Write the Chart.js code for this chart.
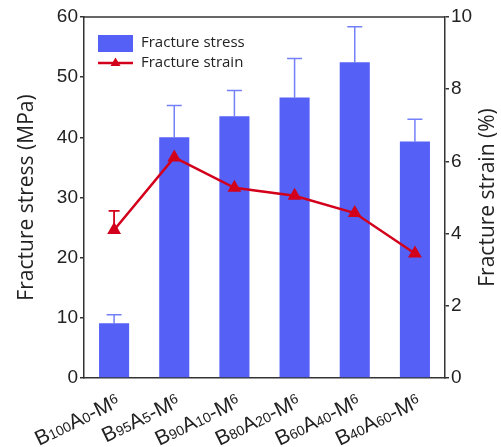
<!DOCTYPE html>
<html>
<head>
<meta charset="utf-8">
<script src="https://cdn.jsdelivr.net/npm/chart.js@4.4.1/dist/chart.umd.min.js"></script>
<style>
  html, body { margin: 0; padding: 0; background: #fff; }
  #wrap { width: 501px; height: 447px; }
</style>
</head>
<body>
<div id="wrap"><canvas id="chart"></canvas></div>
<script>
// data
const categories = ['B100A0-M6', 'B95A5-M6', 'B90A10-M6', 'B80A20-M6', 'B60A40-M6', 'B40A60-M6'];
const stress = [9.1, 40.0, 43.5, 46.6, 52.5, 39.3];
const stressErr = [1.4, 5.3, 4.3, 6.5, 5.9, 3.7];
const strain = [4.1, 6.11, 5.27, 5.05, 4.57, 3.45];
const strainErr = [0.53, 0.2, 0.33, 0.59, 0.27, 0.72];
const stressTicks = [0, 10, 20, 30, 40, 50, 60];
const strainTicks = [0, 2, 4, 6, 8, 10];

const BLUE = '#5561f6';
const BLUE_ERR = '#7480f8';
const RED = '#d3001c';
const AXIS = '#333333';
const TXT = '#222222';

function errBar(ctx, px, v, e, scale, color, half, lw) {
  const y0 = scale.getPixelForValue(v);
  const yt = scale.getPixelForValue(v + e);
  ctx.strokeStyle = color;
  ctx.lineWidth = lw;
  ctx.beginPath();
  ctx.moveTo(px, y0);
  ctx.lineTo(px, yt);
  ctx.moveTo(px - half, yt);
  ctx.lineTo(px + half, yt);
  ctx.stroke();
}

const extras = {
  id: 'extras',
  beforeDatasetsDraw(chart) {
    const ctx = chart.ctx, x = chart.scales.x;
    ctx.save();
    stress.forEach((v, i) => errBar(ctx, x.getPixelForValue(i), v, stressErr[i], chart.scales.y, BLUE_ERR, 7.5, 1.5));
    strain.forEach((v, i) => errBar(ctx, x.getPixelForValue(i), v, strainErr[i], chart.scales.y1, RED, 5.5, 1.8));
    ctx.restore();
  },
  afterDraw(chart) {
    const ctx = chart.ctx, a = chart.chartArea, x = chart.scales.x;
    ctx.save();
    // top frame line
    ctx.strokeStyle = AXIS;
    ctx.lineWidth = 1.5;
    ctx.beginPath();
    ctx.moveTo(a.left, a.top);
    ctx.lineTo(a.right, a.top);
    ctx.stroke();

    // right axis title, reading bottom to top
    ctx.save();
    ctx.translate(488, (a.top + a.bottom) / 2);
    ctx.rotate(-Math.PI / 2);
    ctx.fillStyle = TXT;
    ctx.font = '21px "Open Sans"';
    ctx.textAlign = 'center';
    ctx.textBaseline = 'middle';
    ctx.fillText('Fracture strain (%)', 0, 0);
    ctx.restore();

    // legend
    ctx.fillStyle = BLUE;
    ctx.fillRect(98, 35, 35, 17);
    ctx.strokeStyle = RED;
    ctx.lineWidth = 2.5;
    ctx.beginPath();
    ctx.moveTo(98, 63);
    ctx.lineTo(133, 63);
    ctx.stroke();
    ctx.fillStyle = RED;
    ctx.beginPath();
    ctx.moveTo(115.5, 57.5);
    ctx.lineTo(120.5, 66);
    ctx.lineTo(110.5, 66);
    ctx.closePath();
    ctx.fill();
    ctx.fillStyle = TXT;
    ctx.font = '15px "Open Sans"';
    ctx.textBaseline = 'middle';
    ctx.textAlign = 'left';
    ctx.fillText('Fracture stress', 141, 43);
    ctx.fillText('Fracture strain', 141, 63);

    // rotated category labels with small digits
    const big = 21, small = 14;
    ctx.textBaseline = 'alphabetic';
    categories.forEach((lab, i) => {
      const segs = lab.match(/\d+|\D+/g);
      let total = 0;
      segs.forEach(s => {
        ctx.font = (/\d/.test(s) ? small : big) + 'px "Liberation Sans"';
        total += ctx.measureText(s).width;
      });
      ctx.save();
      ctx.translate(x.getPixelForValue(i) + 7, x.top + 28);
      ctx.rotate(-26 * Math.PI / 180);
      let cx = -total;
      segs.forEach((s, k) => {
        const isNum = /\d/.test(s);
        ctx.font = (isNum ? small : big) + 'px "Liberation Sans"';
        let dy = 0;
        if (isNum && k > 0 && segs[k - 1].endsWith('M')) dy = -5;
        ctx.fillText(s, cx, dy);
        cx += ctx.measureText(s).width;
      });
      ctx.restore();
    });
    ctx.restore();
  }
};

new Chart(document.getElementById('chart'), {
  type: 'bar',
  data: {
    labels: categories,
    datasets: [{
      type: 'line',
      label: 'Fracture strain',
      data: strain,
      yAxisID: 'y1',
      borderColor: RED,
      backgroundColor: RED,
      borderWidth: 2.5,
      pointStyle: 'triangle',
      pointRadius: 5.5,
      pointHoverRadius: 5.5,
      pointBackgroundColor: RED,
      pointBorderColor: RED,
      tension: 0,
      order: 0
    }, {
      label: 'Fracture stress',
      data: stress,
      yAxisID: 'y',
      backgroundColor: BLUE,
      barPercentage: 0.5,
      categoryPercentage: 1.0,
      order: 1
    }]
  },
  options: {
    responsive: true,
    maintainAspectRatio: false,
    animation: false,
    layout: { padding: { top: 17, left: 0, right: 0, bottom: 0 } },
    plugins: { legend: { display: false }, tooltip: { enabled: false } },
    scales: {
      x: {
        grid: { display: false },
        border: { display: true, color: AXIS, width: 1.5 },
        ticks: { display: false },
        afterFit(s) { s.height = 69; }
      },
      y: {
        position: 'left',
        min: 0, max: 60,
        afterBuildTicks(s) { s.ticks = stressTicks.map(v => ({ value: v })); },
        ticks: { color: TXT, font: { family: 'Liberation Sans', size: 19 }, padding: 2 },
        grid: { drawOnChartArea: false, tickLength: 4, color: AXIS, lineWidth: 1.5 },
        border: { color: AXIS, width: 1.5 },
        title: { display: true, text: 'Fracture stress (MPa)', color: TXT, font: { family: 'Open Sans', size: 21 }, padding: { top: 14, bottom: 0 } },
        afterFit(s) { s.width = 84; }
      },
      y1: {
        position: 'right',
        min: 0, max: 10,
        afterBuildTicks(s) { s.ticks = strainTicks.map(v => ({ value: v })); },
        ticks: { color: TXT, font: { family: 'Liberation Sans', size: 19 }, padding: 2 },
        grid: { drawOnChartArea: false, tickLength: 4, color: AXIS, lineWidth: 1.5 },
        border: { color: AXIS, width: 1.5 },
        title: { display: false },
        afterFit(s) { s.width = 56; }
      }
    }
  },
  plugins: [extras]
});
</script>
</body>
</html>
